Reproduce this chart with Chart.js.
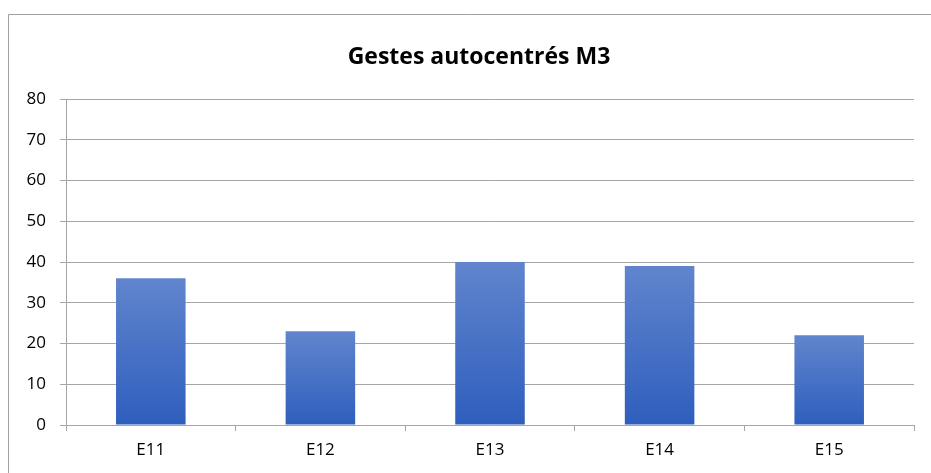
<!DOCTYPE html>
<html>
<head>
<meta charset="utf-8">
<script src="https://cdn.jsdelivr.net/npm/chart.js@4/dist/chart.umd.min.js"></script>
<style>
  html, body { margin: 0; padding: 0; background: #fff; }
  #wrap { position: relative; width: 931px; height: 473px; }
  canvas { display: block; }
</style>
</head>
<body>
<div id="wrap"><canvas id="c" width="931" height="473"></canvas></div>
<script>
// Data
const categories = ['E11', 'E12', 'E13', 'E14', 'E15'];
const gestes = [36, 23, 40, 39, 22];
const yMin = 0, yMax = 80, yStep = 10;
const chartTitle = 'Gestes autocentrés M3';

const FONT = '"Open Sans", "Liberation Sans", sans-serif';
const GRID = '#a6a6a6';

// Vertical gradient per bar: lighter at the top, deeper blue at the base
function barFill(ctx) {
  const chart = ctx.chart;
  if (!chart.chartArea || ctx.raw === undefined) return '#4472c4';
  const ys = chart.scales.y;
  const top = ys.getPixelForValue(ctx.raw);
  const base = ys.getPixelForValue(0);
  const g = chart.ctx.createLinearGradient(0, top, 0, base);
  g.addColorStop(0, '#6185cd');
  g.addColorStop(1, '#2e5ebd');
  return g;
}

// Outer chart frame (top and left edges visible within the canvas)
const frame = {
  id: 'frame',
  beforeDraw(chart) {
    const c = chart.ctx;
    c.save();
    c.strokeStyle = '#a0a0a0';
    c.lineWidth = 1;
    c.beginPath();
    c.moveTo(8.5, 480);
    c.lineTo(8.5, 14.5);
    c.lineTo(940, 14.5);
    c.stroke();
    c.restore();
  }
};

// Title centred over the whole frame, which runs past the canvas on the right
const frameTitle = {
  id: 'frameTitle',
  afterDraw(chart) {
    const c = chart.ctx;
    c.save();
    c.fillStyle = '#000';
    c.font = 'bold 23px ' + FONT;
    c.textAlign = 'center';
    c.textBaseline = 'middle';
    c.fillText(chartTitle, 479, 57);
    c.restore();
  }
};

new Chart(document.getElementById('c'), {
  type: 'bar',
  data: {
    labels: categories,
    datasets: [{
      label: chartTitle,
      data: gestes,
      backgroundColor: barFill,
      borderWidth: 0,
      categoryPercentage: 1,
      barPercentage: 0.41
    }]
  },
  options: {
    responsive: false,
    animation: false,
    devicePixelRatio: 1,
    layout: { padding: { left: 0, right: 17, top: 99, bottom: 0 } },
    plugins: {
      legend: { display: false },
      tooltip: { enabled: false },
      title: { display: false }
    },
    scales: {
      x: {
        offset: true,
        grid: {
          display: true,
          offset: true,
          drawOnChartArea: false,
          drawTicks: true,
          tickLength: 6,
          color: GRID
        },
        border: { display: true, color: GRID, width: 1 },
        ticks: {
          color: '#000',
          padding: 9,
          font: { family: FONT, size: 17 }
        },
        afterFit(s) { s.height = 48; }
      },
      y: {
        min: yMin,
        max: yMax,
        grid: {
          color: GRID,
          tickLength: 6,
          lineWidth: 1
        },
        border: { display: true, color: GRID, width: 1 },
        ticks: {
          stepSize: yStep,
          color: '#000',
          padding: 14,
          font: { family: FONT, size: 17 }
        },
        afterFit(s) { s.width = 66; }
      }
    }
  },
  plugins: [frame, frameTitle]
});
</script>
</body>
</html>
